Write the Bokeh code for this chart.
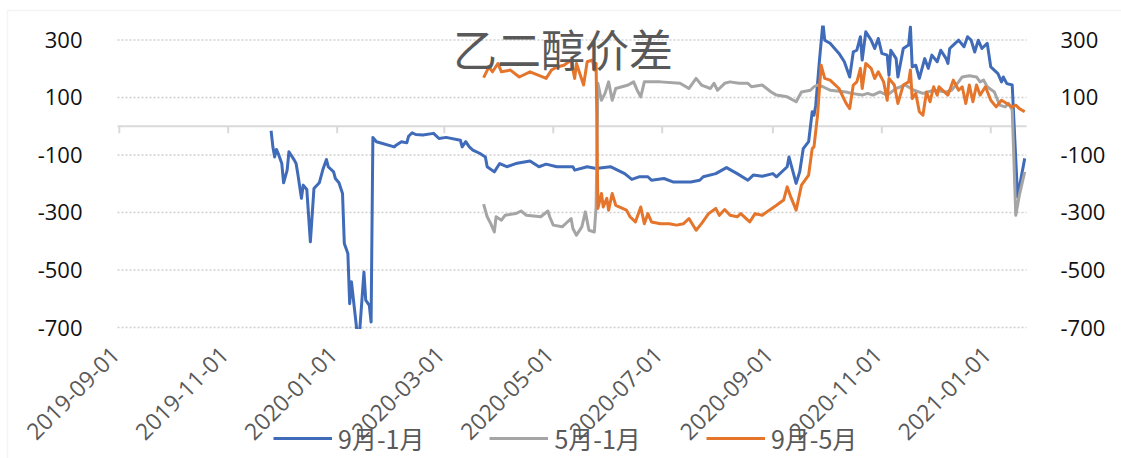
from datetime import datetime, timedelta
from math import pi
import pandas as pd
from bokeh.plotting import figure
from bokeh.models import (Range1d, Legend, LegendItem, LabelSet, Label, ColumnDataSource,
                          BoxAnnotation)
from bokeh.embed import file_html
from bokeh.resources import INLINE
from bokeh.core.properties import value

title_text = "乙二醇价差"
series_names = ["9月-1月", "5月-1月", "9月-5月"]
series_colors = ["#3F6BB8", "#A5A5A5", "#E4752B"]
y_ticks = [-700, -500, -300, -100, 100, 300]
x_tick_labels = ["2019-09-01", "2019-11-01", "2020-01-01", "2020-03-01", "2020-05-01",
                 "2020-07-01", "2020-09-01", "2020-11-01", "2021-01-01"]

blue_dates = ["2019-11-25", "2019-11-26", "2019-11-27", "2019-11-28", "2019-11-29", "2019-12-01",
              "2019-12-02", "2019-12-04", "2019-12-05", "2019-12-08", "2019-12-09", "2019-12-10",
              "2019-12-12", "2019-12-13", "2019-12-15", "2019-12-17", "2019-12-19", "2019-12-22",
              "2019-12-24", "2019-12-26", "2019-12-27", "2019-12-30", "2019-12-31", "2020-01-02",
              "2020-01-04", "2020-01-05", "2020-01-07", "2020-01-08", "2020-01-09", "2020-01-13",
              "2020-01-16", "2020-01-17", "2020-01-19", "2020-01-20", "2020-01-21", "2020-01-23",
              "2020-02-02", "2020-02-03", "2020-02-06", "2020-02-09", "2020-02-10", "2020-02-12",
              "2020-02-14", "2020-02-18", "2020-02-24", "2020-02-27", "2020-03-02", "2020-03-10",
              "2020-03-11", "2020-03-13", "2020-03-15", "2020-03-17", "2020-03-21", "2020-03-24",
              "2020-03-25", "2020-03-29", "2020-04-01", "2020-04-05", "2020-04-10", "2020-04-18",
              "2020-04-23", "2020-04-27", "2020-05-03", "2020-05-12", "2020-05-13", "2020-05-20",
              "2020-05-25", "2020-06-02", "2020-06-10", "2020-06-14", "2020-06-18", "2020-06-23",
              "2020-06-25", "2020-07-02", "2020-07-07", "2020-07-17", "2020-07-22", "2020-07-24",
              "2020-07-31", "2020-08-06", "2020-08-12", "2020-08-18", "2020-08-21", "2020-08-26",
              "2020-09-01", "2020-09-03", "2020-09-09", "2020-09-10", "2020-09-12", "2020-09-14",
              "2020-09-16", "2020-09-18", "2020-09-21", "2020-09-23", "2020-09-24", "2020-09-25",
              "2020-09-27", "2020-09-29", "2020-09-30", "2020-10-03", "2020-10-08", "2020-10-11",
              "2020-10-14", "2020-10-16", "2020-10-18", "2020-10-20", "2020-10-21", "2020-10-23",
              "2020-10-26", "2020-10-28", "2020-10-30", "2020-11-01", "2020-11-04", "2020-11-05",
              "2020-11-06", "2020-11-09", "2020-11-10", "2020-11-13", "2020-11-16", "2020-11-17",
              "2020-11-18", "2020-11-20", "2020-11-22", "2020-11-25", "2020-11-27", "2020-11-29",
              "2020-12-02", "2020-12-04", "2020-12-07", "2020-12-08", "2020-12-09", "2020-12-11",
              "2020-12-14", "2020-12-17", "2020-12-19", "2020-12-21", "2020-12-23", "2020-12-25",
              "2020-12-27", "2020-12-30", "2021-01-01", "2021-01-05", "2021-01-07", "2021-01-08",
              "2021-01-10", "2021-01-13", "2021-01-16", "2021-01-20"]
blue_values = [-16, -72, -107, -81, -95, -130,
               -197, -153, -89, -118, -130, -167,
               -251, -205, -220, -402, -217, -197,
               -151, -116, -141, -159, -182, -197,
               -234, -408, -443, -617, -541, -765,
               -507, -605, -623, -681, -39, -54,
               -72, -66, -54, -58, -35, -23,
               -29, -31, -25, -43, -39, -49,
               -72, -54, -72, -83, -95, -107,
               -141, -159, -130, -141, -130, -121,
               -141, -132, -141, -141, -153, -141,
               -147, -141, -165, -185, -176, -176,
               -188, -182, -194, -194, -188, -176,
               -165, -144, -165, -188, -170, -174,
               -165, -176, -141, -107, -153, -199,
               -159, -78, -54, 50, 38, 73,
               224, 360, 299, 288, 253, 224,
               171, 258, 264, 311, 230, 328,
               299, 270, 305, 253, 247, 177,
               264, 235, 171, 270, 282, 345,
               206, 212, 166, 235, 201, 247,
               224, 264, 235, 218, 270, 282,
               299, 276, 311, 299, 258, 299,
               270, 288, 206, 183, 154, 171,
               148, 143, -246, -112]

grey_dates = ["2020-03-23", "2020-03-25", "2020-03-27", "2020-03-29", "2020-03-30", "2020-04-02",
              "2020-04-04", "2020-04-10", "2020-04-13", "2020-04-16", "2020-04-24", "2020-04-28",
              "2020-04-29", "2020-05-01", "2020-05-06", "2020-05-11", "2020-05-12", "2020-05-14",
              "2020-05-17", "2020-05-19", "2020-05-21", "2020-05-24", "2020-05-25", "2020-05-26",
              "2020-05-28", "2020-05-30", "2020-06-01", "2020-06-03", "2020-06-05", "2020-06-12",
              "2020-06-15", "2020-06-17", "2020-06-19", "2020-06-21", "2020-06-30", "2020-07-11",
              "2020-07-16", "2020-07-20", "2020-07-23", "2020-07-28", "2020-07-30", "2020-08-01",
              "2020-08-05", "2020-08-08", "2020-08-13", "2020-08-18", "2020-08-20", "2020-08-26",
              "2020-08-31", "2020-09-03", "2020-09-09", "2020-09-14", "2020-09-17", "2020-09-22",
              "2020-09-24", "2020-09-26", "2020-09-29", "2020-10-03", "2020-10-12", "2020-10-15",
              "2020-10-21", "2020-10-24", "2020-10-27", "2020-10-31", "2020-11-04", "2020-11-09",
              "2020-11-14", "2020-11-19", "2020-11-24", "2020-11-30", "2020-12-07", "2020-12-10",
              "2020-12-14", "2020-12-16", "2020-12-20", "2020-12-24", "2020-12-26", "2020-12-28",
              "2020-12-30", "2021-01-03", "2021-01-06", "2021-01-09", "2021-01-11", "2021-01-13",
              "2021-01-15", "2021-01-17", "2021-01-20"]
grey_values = [-271, -315, -339, -368, -315, -327,
               -310, -304, -295, -310, -315, -295,
               -315, -344, -350, -321, -356, -379,
               -350, -298, -362, -368, -281, 149,
               90, 114, 154, 90, 131, 143,
               154, 125, 102, 154, 154, 149,
               131, 166, 143, 131, 149, 125,
               149, 154, 149, 149, 137, 143,
               119, 108, 102, 85, 119, 125,
               137, 143, 137, 125, 119, 114,
               108, 114, 108, 119, 108, 131,
               143, 125, 114, 125, 119, 125,
               154, 171, 175, 171, 154, 160,
               137, 119, 73, 67, 79, 56,
               -310, -240, -159]

orange_dates = ["2020-03-23", "2020-03-26", "2020-03-28", "2020-03-31", "2020-04-02", "2020-04-07",
                "2020-04-12", "2020-04-18", "2020-04-25", "2020-04-27", "2020-04-30", "2020-05-03",
                "2020-05-07", "2020-05-11", "2020-05-13", "2020-05-14", "2020-05-18", "2020-05-20",
                "2020-05-23", "2020-05-24", "2020-05-25", "2020-05-26", "2020-05-28", "2020-05-29",
                "2020-05-31", "2020-06-01", "2020-06-03", "2020-06-05", "2020-06-11", "2020-06-13",
                "2020-06-16", "2020-06-19", "2020-06-21", "2020-06-23", "2020-06-25", "2020-06-30",
                "2020-07-05", "2020-07-09", "2020-07-13", "2020-07-16", "2020-07-20", "2020-07-23",
                "2020-07-27", "2020-07-31", "2020-08-02", "2020-08-05", "2020-08-08", "2020-08-12",
                "2020-08-14", "2020-08-19", "2020-08-22", "2020-08-26", "2020-08-30", "2020-09-03",
                "2020-09-07", "2020-09-09", "2020-09-11", "2020-09-14", "2020-09-17", "2020-09-21",
                "2020-09-23", "2020-09-24", "2020-09-26", "2020-09-28", "2020-09-30", "2020-10-03",
                "2020-10-08", "2020-10-12", "2020-10-14", "2020-10-16", "2020-10-18", "2020-10-20",
                "2020-10-21", "2020-10-23", "2020-10-26", "2020-10-28", "2020-10-30", "2020-11-02",
                "2020-11-04", "2020-11-05", "2020-11-08", "2020-11-10", "2020-11-13", "2020-11-16",
                "2020-11-17", "2020-11-18", "2020-11-20", "2020-11-22", "2020-11-24", "2020-11-26",
                "2020-11-28", "2020-11-30", "2020-12-02", "2020-12-03", "2020-12-06", "2020-12-08",
                "2020-12-09", "2020-12-11", "2020-12-14", "2020-12-16", "2020-12-18", "2020-12-20",
                "2020-12-22", "2020-12-24", "2020-12-26", "2020-12-29", "2021-01-01", "2021-01-04",
                "2021-01-07", "2021-01-10", "2021-01-13", "2021-01-15", "2021-01-17", "2021-01-20"]
orange_values = [169, 206, 189, 218, 189, 195,
                 171, 189, 171, 166, 195, 206,
                 212, 230, 166, 218, 143, 224,
                 230, 195, 218, -286, -234, -281,
                 -251, -292, -234, -275, -292, -315,
                 -333, -281, -339, -304, -333, -339,
                 -339, -344, -339, -321, -362, -339,
                 -304, -286, -310, -290, -310, -315,
                 -304, -333, -304, -310, -292, -275,
                 -257, -211, -246, -292, -205, -170,
                 -78, -72, 38, 212, 166, 160,
                 131, 79, 61, 143, 154, 201,
                 131, 218, 201, 166, 189, 154,
                 90, 166, 143, 79, 143, 154,
                 195, 96, 114, 50, 38, 119,
                 85, 137, 108, 137, 119, 108,
                 125, 160, 125, 137, 79, 143,
                 85, 143, 108, 137, 90, 67,
                 90, 79, 67, 73, 61, 50]

# ---- layout (pixels) ----
W, H = 1121, 458
area_left, area_right, area_top = 117, 1026, 25      # plot area inside the canvas
grid_px = 302                                         # pixels from 350 down to -700
y_top, y_grid_min = 350, -700
x_start = datetime(2019, 8, 31)
x_end = datetime(2021, 1, 21)

units_per_px = (y_top - y_grid_min) / grid_px
days_per_px = (x_end - x_start).days / (area_right - area_left)
y_hi = y_top + area_top * units_per_px
y_lo = y_grid_min - (H - area_top - grid_px) * units_per_px
x_lo = x_start - timedelta(days=area_left * days_per_px)
x_hi = x_end + timedelta(days=(W - area_right) * days_per_px)


def px_x(px):
    return x_lo + timedelta(days=px * days_per_px)


def px_y(px):
    return y_hi - px * units_per_px


axis_color = "#D9D9D9"
text_grey = "#595959"
label_black = "#111111"

p = figure(width=W, height=H, x_axis_type="datetime", x_axis_location=None,
           y_axis_location=None,
           x_range=Range1d(x_lo, x_hi), y_range=Range1d(y_lo, y_hi),
           output_backend="svg", toolbar_location=None,
           min_border_left=0, min_border_right=0, min_border_top=0, min_border_bottom=0)
p.outline_line_color = None
p.background_fill_color = "white"
p.border_fill_color = "white"
p.xgrid.visible = False
p.ygrid.visible = False

# dotted value gridlines across the plot area
n = len(y_ticks)
p.segment(x0=[x_start] * n, x1=[x_end] * n, y0=y_ticks, y1=y_ticks,
          line_color="#D0D0D0", line_dash="2 2", line_width=1.5)

# horizontal category axis crossing at zero, with tick marks
p.segment(x0=[x_start], x1=[x_end], y0=[0], y1=[0], line_color=axis_color, line_width=2)
tick_dates = pd.to_datetime(x_tick_labels)
p.segment(x0=tick_dates, y0=0, x1=tick_dates, y1=-7 * units_per_px,
          line_color=axis_color, line_width=2)

renderers = []
for dates, vals, col in [(blue_dates, blue_values, series_colors[0]),
                         (grey_dates, grey_values, series_colors[1]),
                         (orange_dates, orange_values, series_colors[2])]:
    r = p.line(x=pd.to_datetime(dates), y=vals, line_color=col, line_width=3,
               line_join="round")
    renderers.append(r)

# the plot area spans -700..350: hide what lies outside it
p.add_layout(BoxAnnotation(top=y_grid_min - 1.5 * units_per_px, fill_color="white",
                           fill_alpha=1, line_color=None))
p.add_layout(BoxAnnotation(bottom=y_top, fill_color="white", fill_alpha=1, line_color=None))

# chart border (light grey)
p.add_layout(BoxAnnotation(left=px_x(7), top=px_y(10), right=px_x(W + 10), bottom=px_y(H + 10),
                           fill_alpha=0, line_color="#D9D9D9", line_width=1.5))

# value axis labels, left and right
ysrc = ColumnDataSource(dict(y=y_ticks, text=[str(t) for t in y_ticks],
                             xl=[x_start] * n, xr=[x_end] * n))
p.add_layout(LabelSet(x="xl", y="y", text="text", source=ysrc, x_offset=-35,
                      text_align="right", text_baseline="middle",
                      text_font=value("Open Sans"), text_font_size="22px",
                      text_color=label_black))
p.add_layout(LabelSet(x="xr", y="y", text="text", source=ysrc, x_offset=34,
                      text_align="left", text_baseline="middle",
                      text_font=value("Open Sans"), text_font_size="22px",
                      text_color=label_black))

# rotated date labels under the plot area
lbl_src = ColumnDataSource(dict(x=tick_dates, text=x_tick_labels))
p.add_layout(LabelSet(x="x", y=y_grid_min, text="text", source=lbl_src, angle=pi / 4,
                      text_align="right", text_baseline="middle", x_offset=-4, y_offset=-23,
                      text_font=value("Open Sans"), text_font_size="23px",
                      text_color=text_grey))

legend = Legend(items=[LegendItem(label=nm, renderers=[r]) for nm, r in zip(series_names, renderers)],
                orientation="horizontal", location=(273, 2), padding=0, margin=0,
                spacing=65, glyph_width=59, glyph_height=24, label_height=24, label_standoff=6,
                label_text_font="Noto Sans CJK SC", label_text_font_size="25px",
                label_text_color=text_grey, border_line_color=None, background_fill_alpha=0)
p.add_layout(legend)

p.add_layout(Label(x=datetime(2020, 5, 6, 12), y=271, text=title_text, text_align="center",
                   text_baseline="middle", text_font="Noto Sans CJK SC", text_font_size="44px",
                   text_color=text_grey))

open("out.html", "w").write(file_html(p, INLINE))
